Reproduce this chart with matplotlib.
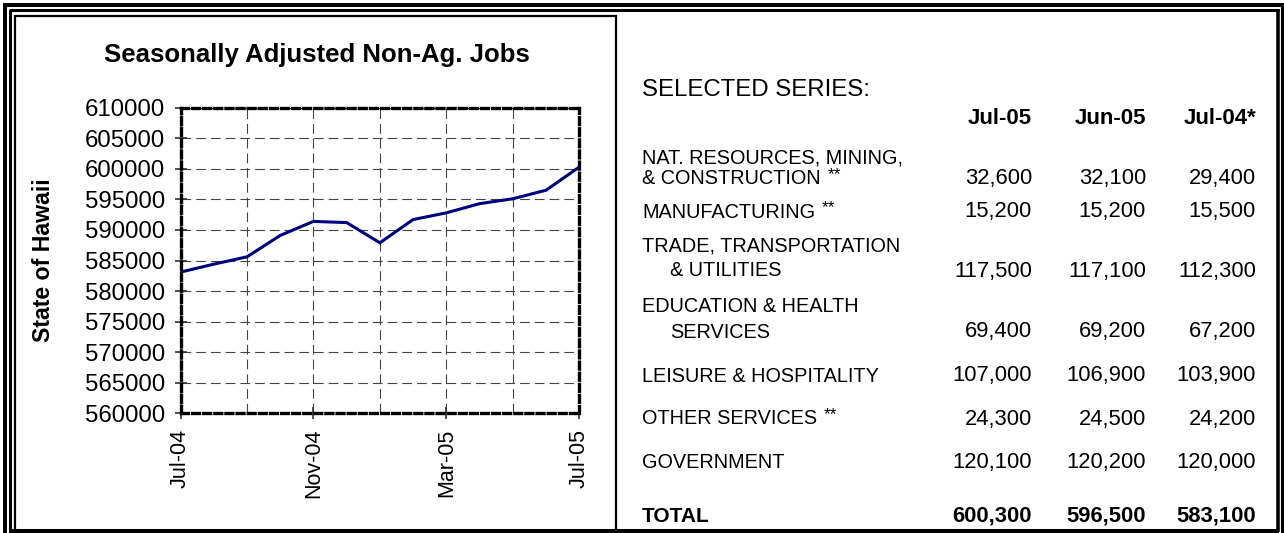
import matplotlib
matplotlib.use("Agg")
import matplotlib.pyplot as plt
from matplotlib.lines import Line2D
from matplotlib.ticker import FixedLocator, StrMethodFormatter

plt.rcParams['font.family'] = ['Liberation Sans', 'DejaVu Sans']
plt.rcParams['lines.scale_dashes'] = False

# ---------------- data ----------------
months = ['Jul-04', 'Aug-04', 'Sep-04', 'Oct-04', 'Nov-04', 'Dec-04', 'Jan-05',
          'Feb-05', 'Mar-05', 'Apr-05', 'May-05', 'Jun-05', 'Jul-05']
jobs = [583100, 584400, 585600, 589100, 591400, 591200, 587900,
        591700, 592800, 594300, 595100, 596500, 600300]
y_ticks = [560000, 565000, 570000, 575000, 580000, 585000,
           590000, 595000, 600000, 605000, 610000]

columns = ['Jul-05', 'Jun-05', 'Jul-04*']
row_names = [["NAT. RESOURCES, MINING,", "& CONSTRUCTION"],
             ["MANUFACTURING"],
             ["TRADE, TRANSPORTATION", "& UTILITIES"],
             ["EDUCATION & HEALTH", "SERVICES"],
             ["LEISURE & HOSPITALITY"],
             ["OTHER SERVICES"],
             ["GOVERNMENT"]]
row_marks = ['**', '**', '', '', '', '**', '']
jul05 = [32600, 15200, 117500, 69400, 107000, 24300, 120100]
jun05 = [32100, 15200, 117100, 69200, 106900, 24500, 120200]
jul04 = [29400, 15500, 112300, 67200, 103900, 24200, 120000]
total_label = 'TOTAL'
totals = [600300, 596500, 583100]

# ---------------- layout ----------------
W, H = 1284, 533
fig = plt.figure(figsize=(W / 100, H / 100), dpi=100)
fig.patch.set_facecolor('white')

def fx(px):
    return px / W

def fy(py):
    return 1 - py / H

def seg(x0, y0, x1, y1, lw, color='black'):
    fig.add_artist(Line2D([fx(x0), fx(x1)], [fy(y0), fy(y1)], transform=fig.transFigure,
                          color=color, lw=lw, solid_capstyle='butt'))

# outer frame
seg(4.7, 4.7, 4.7, 533, 2.9)
seg(3, 4.7, 1283.5, 4.7, 2.9)
seg(1282.2, 3, 1282.2, 533, 2.2)
# inner frame
seg(9.8, 9.8, 9.8, 532, 2.2)
seg(8.7, 9.8, 1278.5, 9.8, 2.2)
seg(1277.6, 8.7, 1277.6, 532, 2.6)
seg(8.7, 531.3, 1279, 531.3, 2.9)
# chart panel
seg(15.2, 14.5, 15.2, 531, 1.6)
seg(14.5, 15.5, 617, 15.5, 1.6)
seg(616, 14.5, 616, 531, 1.6)

# ---------------- chart ----------------
ax = fig.add_axes([fx(180.5), fy(413.3), fx(579.3) - fx(180.5), fy(107.7) - fy(413.3)])
x = list(range(len(months)))
ax.plot(x, jobs, color='#000080', lw=2.2, zorder=3, solid_joinstyle='miter')
ax.set_xlim(0, len(months) - 1)
ax.set_ylim(y_ticks[0], y_ticks[-1])
ax.set_yticks(y_ticks)
ax.yaxis.set_major_formatter(StrMethodFormatter('{x:.0f}'))
ax.set_xticks(x[::4])
ax.set_xticklabels(months[::4], rotation=90)
ax.xaxis.set_minor_locator(FixedLocator(x[::2]))
ax.grid(True, which='both', axis='x', color='#444444', lw=0.8, linestyle=(0, (7, 3.6)))
ax.grid(True, which='major', axis='y', color='#444444', lw=0.8, linestyle=(0, (7, 3.6)))
ax.tick_params(axis='both', which='major', direction='inout', length=8, width=1.2,
               color='#333333')
ax.tick_params(axis='y', labelsize=17.3, pad=7)
ax.tick_params(axis='x', labelsize=15.5, pad=7)
ax.tick_params(axis='x', which='minor', length=0)
for side in ['left', 'right', 'top', 'bottom']:
    sp = ax.spines[side]
    sp.set_linewidth(2.4)
    sp.set_color('black')
    sp.set_linestyle((0, (5, 3)))
    sp.set_zorder(4)
ax.add_line(Line2D([0, 0], [0, 1], transform=ax.transAxes, color='#707070', lw=1.3,
                   zorder=2.5, clip_on=False))
ax.set_axisbelow(True)

fig.text(fx(317), fy(55), 'Seasonally Adjusted Non-Ag. Jobs', ha='center', va='center',
         fontsize=18.5, fontweight='bold')
fig.text(fx(44), fy(260.5), 'State of Hawaii', ha='center', va='center', rotation=90,
         fontsize=16.7, fontweight='bold')

# ---------------- table ----------------
label_x = 642
indent_x = 670
col_x = [1032, 1146, 1256]
indented = [False, False, True, True, False, False, False]
row_y = [[158, 179], [212], [246, 271], [306.5, 332], [376], [419], [462.5]]
lab_fs = 14.3
num_fs = 15.8

fig.text(fx(label_x), fy(90), 'SELECTED SERIES:', ha='left', va='center', fontsize=17.3)
for cx, col in zip(col_x, columns):
    fig.text(fx(cx), fy(119), col, ha='right', va='center', fontsize=16, fontweight='bold')

for i, names in enumerate(row_names):
    ys = row_y[i]
    last = None
    for j, nm in enumerate(names):
        lx = indent_x if (j > 0 and indented[i]) else label_x
        last = fig.text(fx(lx), fy(ys[j]), nm, ha='left', va='center', fontsize=lab_fs)
    if row_marks[i]:
        fig.canvas.draw()
        bb = last.get_window_extent()
        fig.text(fx(bb.x1 + 7), fy(H - bb.y1 - 2), row_marks[i], ha='left', va='top',
                 fontsize=12.5)
    vy = ys[-1]
    for cx, vals in zip(col_x, (jul05, jun05, jul04)):
        fig.text(fx(cx), fy(vy), f'{vals[i]:,}', ha='right', va='center', fontsize=num_fs)

fig.text(fx(label_x), fy(516), total_label, ha='left', va='center', fontsize=15,
         fontweight='bold')
for cx, v in zip(col_x, totals):
    fig.text(fx(cx), fy(516), f'{v:,}', ha='right', va='center', fontsize=num_fs,
             fontweight='bold')

fig.savefig('out.png', dpi=100)
